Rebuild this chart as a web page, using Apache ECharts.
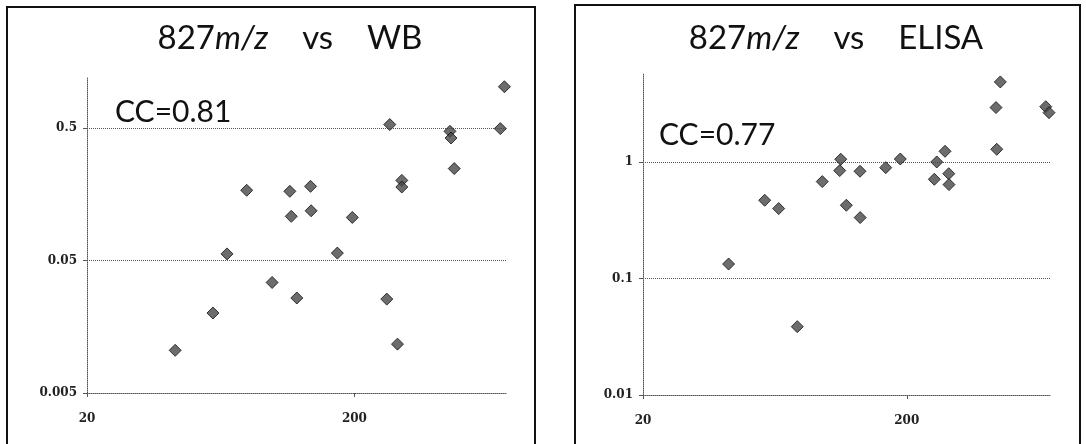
<!DOCTYPE html>
<html>
<head>
<meta charset="utf-8">
<title>827m/z vs WB / ELISA</title>
<script src="https://cdn.jsdelivr.net/npm/echarts@6/dist/echarts.min.js"></script>
<style>
  html, body { margin: 0; padding: 0; background: #fff; }
  #chart { width: 1086px; height: 444px; }
</style>
</head>
<body>
<div id="chart"></div>
<script>
// 827 m/z vs WB (left panel)
const wbX = [42.7, 59.1, 66.7, 79.0, 98.3, 114.5, 115.9, 121.6, 136.8, 137.5, 172.3, 196, 263.6, 270.4, 289, 300, 300, 453.8, 458, 471, 700, 725];
const wbY = [0.0105, 0.0201, 0.0562, 0.170, 0.0342, 0.167, 0.108, 0.0261, 0.182, 0.119, 0.057, 0.106, 0.0256, 0.533, 0.0117, 0.202, 0.180, 0.474, 0.422, 0.248, 0.497, 1.03];

// 827 m/z vs ELISA (right panel)
const elX = [42.2, 57.8, 65.3, 76.8, 95.5, 112.2, 111.2, 117.8, 132.7, 132.9, 166.1, 188.6, 253.8, 259.2, 278.6, 287.8, 288.4, 437.4, 434.6, 451.2, 670.6, 690];
const elY = [0.133, 0.469, 0.398, 0.0386, 0.678, 1.055, 0.843, 0.425, 0.832, 0.333, 0.894, 1.06, 0.710, 1.0, 1.235, 0.793, 0.639, 1.285, 2.93, 4.86, 2.98, 2.65];

const titles = ['WB', 'ELISA'];
const ccLabels = ['CC=0.81', 'CC=0.77'];

document.addEventListener("DOMContentLoaded", function() {
    const chart = echarts.init(document.getElementById('chart'));

    const pairs = (xs, ys) => xs.map((x, i) => [x, ys[i]]);
    // log ticks come back slightly off (0.0501), round them to 2 significant digits
    const fmt = v => String(+(+v).toPrecision(2));

    const gridLine = { type: 'dotted', color: '#555', width: 1 };
    const labelFont = { fontFamily: 'DejaVu Serif', fontWeight: 'bold', fontSize: 12, color: '#222' };

    function xAxisFor(idx, max) {
        return {
            type: 'log', logBase: 10, gridIndex: idx,
            min: 20, max: max, interval: 1,
            axisLine: { show: true, lineStyle: gridLine },
            axisTick: { show: true, length: 4, lineStyle: { color: '#555' } },
            axisLabel: Object.assign({ margin: 20, showMaxLabel: false, formatter: fmt }, labelFont),
            splitLine: { show: false }
        };
    }

    function yAxisFor(idx, min, max) {
        return {
            type: 'log', logBase: 10, gridIndex: idx,
            min: min, max: max, interval: 1,
            axisLine: { show: true, lineStyle: gridLine },
            axisTick: { show: true, length: 4, lineStyle: { color: '#555' } },
            axisLabel: Object.assign({ margin: 10, showMaxLabel: false, formatter: fmt }, labelFont),
            splitLine: { show: true, showMaxLine: false, lineStyle: gridLine }
        };
    }

    const marker = {
        symbol: 'diamond', symbolSize: 12,
        itemStyle: { color: '#474747', borderColor: '#111', borderWidth: 1 }
    };

    function titleText(x, y, name) {
        return {
            type: 'text', x: x, y: y,
            style: {
                text: '{n|827}{i|m/z}{n|    vs    ' + name + '}',
                align: 'center', verticalAlign: 'middle',
                rich: {
                    n: { fontFamily: 'Lato', fontSize: 33, fill: '#111' },
                    i: { fontFamily: 'Lato', fontSize: 33, fontStyle: 'italic', fill: '#111' }
                }
            }
        };
    }

    function ccText(x, y, txt) {
        return {
            type: 'text', x: x, y: y, z: 10,
            style: { text: txt, fontFamily: 'Lato', fontSize: 30, fill: '#111', align: 'left', verticalAlign: 'middle' }
        };
    }

    const option = {
        animation: false,
        backgroundColor: '#fff',
        grid: [
            { left: 87, top: 77, width: 419, height: 316, outerBoundsMode: 'none' },
            { left: 643, top: 73, width: 408, height: 322, outerBoundsMode: 'none' }
        ],
        xAxis: [xAxisFor(0, 735), xAxisFor(1, 702)],
        yAxis: [yAxisFor(0, 0.005, 1.22), yAxisFor(1, 0.01, 5.8)],
        series: [
            Object.assign({ type: 'scatter', xAxisIndex: 0, yAxisIndex: 0, data: pairs(wbX, wbY) }, marker),
            Object.assign({ type: 'scatter', xAxisIndex: 1, yAxisIndex: 1, data: pairs(elX, elY) }, marker)
        ],
        graphic: [
            // panel frames
            { type: 'rect', shape: { x: 7, y: 7, width: 528, height: 460 }, style: { fill: 'none', stroke: '#111', lineWidth: 2 } },
            { type: 'rect', shape: { x: 575, y: 5, width: 505, height: 460 }, style: { fill: 'none', stroke: '#111', lineWidth: 2 } },
            titleText(290, 38, titles[0]),
            titleText(836, 38, titles[1]),
            ccText(115, 112, ccLabels[0]),
            ccText(659, 135, ccLabels[1])
        ]
    };

    chart.setOption(option);
});
</script>
</body>
</html>
